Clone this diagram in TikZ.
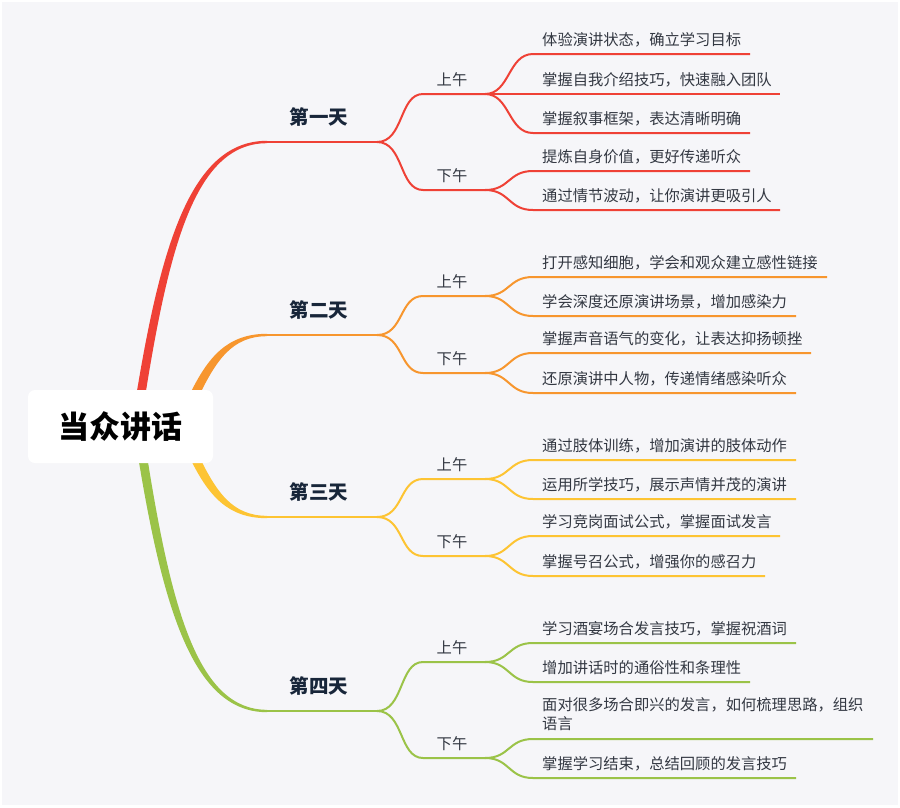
\documentclass[tikz,border=0pt]{standalone}
\usepackage{fontspec}
\setmainfont{Noto Sans CJK SC}
\definecolor{cRed}{HTML}{EF4136}
\definecolor{cOrange}{HTML}{F7962E}
\definecolor{cYellow}{HTML}{FDC433}
\definecolor{cGreen}{HTML}{9BC348}
\definecolor{bgc}{HTML}{F6F6F9}
\definecolor{txt}{HTML}{333842}
\definecolor{daytxt}{HTML}{18263A}
\tikzset{
  rootbox/.style={fill=white,rounded corners=7pt,minimum width=185pt,minimum height=73pt,inner sep=0pt,font=\fontsize{31}{34}\selectfont\bfseries,text=black},
  daylbl/.style={inner sep=0pt,font=\fontsize{19.5}{22}\selectfont\bfseries,text=daytxt},
  halflbl/.style={inner sep=0pt,font=\fontsize{15.3}{19.5}\selectfont,text=txt},
  leaftxt/.style={inner sep=0pt,anchor=west,align=left,font=\fontsize{15.3}{19.5}\selectfont,text=txt},
  dayline/.style={line width=2.4pt},
  subline/.style={line width=2pt},
}
\newcommand{\mmleaf}[7]{%
  \node[leaftxt] (#6) at (542,#5) {#7};
  \coordinate (#6s) at (533,#3);
  \coordinate (#6e) at (#4,#3);
  \draw[subline,#1] (#2) .. controls +(25,0) and +(-25,0) .. (#6s) -- (#6e);
}
\newcommand{\mmday}[6]{%
  \node[daylbl] (#2) at (319,#3-25) {#4};
  \coordinate (#2a) at (267,#3);
  \coordinate (#2b) at (377,#3);
  \draw[dayline,#1] (#2a) -- (#2b);
  \node[halflbl] (#2am) at (452,#5-14) {上午};
  \coordinate (#2amA) at (423,#5);
  \coordinate (#2amB) at (485,#5);
  \draw[subline,#1] (#2b) .. controls +(27,0) and +(-24,0) .. (#2amA) -- (#2amB);
  \node[halflbl] (#2pm) at (452,#6-14) {下午};
  \coordinate (#2pmA) at (423,#6);
  \coordinate (#2pmB) at (485,#6);
  \draw[subline,#1] (#2b) .. controls +(27,0) and +(-24,0) .. (#2pmA) -- (#2pmB);
}
\begin{document}
\begin{tikzpicture}[x=1pt,y=-1pt]
\fill[white] (0,0) rectangle (900,807);
\fill[bgc] (2,2) rectangle (898,805);
\useasboundingbox (0,0) rectangle (900,807);

% main tapered branches
\fill[cRed] (136.5,394) .. controls (162,239) and (193,140.8) .. (267,140.8)
  -- (267,143.2) .. controls (197,143.2) and (170,241) .. (145.5,394) -- cycle;
\fill[cOrange] (189,396) .. controls (208,356) and (228,333.8) .. (267,333.8)
  -- (267,336.2) .. controls (232,336.2) and (216,360) .. (197,400) -- cycle;
\fill[cYellow] (189,456) .. controls (208,496) and (228,518.2) .. (267,518.2)
  -- (267,515.8) .. controls (232,515.8) and (216,492) .. (197,452) -- cycle;
\fill[cGreen] (138.5,459) .. controls (164,614) and (195,712.2) .. (267,712.2)
  -- (267,709.8) .. controls (199,709.8) and (172,612) .. (147.5,459) -- cycle;

\node[rootbox] (root) at (120.5,426.5) {当众讲话};

% Day 1
\mmday{cRed}{d1}{142}{第一天}{94}{190}
\mmleaf{cRed}{d1amB}{54}{750}{39.5}{l11}{体验演讲状态，确立学习目标}
\mmleaf{cRed}{d1amB}{94}{780}{79.5}{l12}{掌握自我介绍技巧，快速融入团队}
\mmleaf{cRed}{d1amB}{133}{750}{118.5}{l13}{掌握叙事框架，表达清晰明确}
\mmleaf{cRed}{d1pmB}{171}{750}{156.5}{l14}{提炼自身价值，更好传递听众}
\mmleaf{cRed}{d1pmB}{210}{780}{195.5}{l15}{通过情节波动，让你演讲更吸引人}

% Day 2
\mmday{cOrange}{d2}{335}{第二天}{296}{373}
\mmleaf{cOrange}{d2amB}{277}{827}{262.5}{l21}{打开感知细胞，学会和观众建立感性链接}
\mmleaf{cOrange}{d2amB}{316}{796}{301.5}{l22}{学会深度还原演讲场景，增加感染力}
\mmleaf{cOrange}{d2pmB}{353}{811}{338.5}{l23}{掌握声音语气的变化，让表达抑扬顿挫}
\mmleaf{cOrange}{d2pmB}{393}{796}{378.5}{l24}{还原演讲中人物，传递情绪感染听众}

% Day 3
\mmday{cYellow}{d3}{517}{第三天}{479}{556}
\mmleaf{cYellow}{d3amB}{460}{796}{445.5}{l31}{通过肢体训练，增加演讲的肢体动作}
\mmleaf{cYellow}{d3amB}{499}{796}{484.5}{l32}{运用所学技巧，展示声情并茂的演讲}
\mmleaf{cYellow}{d3pmB}{536}{780}{521.5}{l33}{学习竞岗面试公式，掌握面试发言}
\mmleaf{cYellow}{d3pmB}{576}{765}{561.5}{l34}{掌握号召公式，增强你的感召力}

% Day 4
\mmday{cGreen}{d4}{711}{第四天}{662}{758}
\mmleaf{cGreen}{d4amB}{643}{796}{628.5}{l41}{学习酒宴场合发言技巧，掌握祝酒词}
\mmleaf{cGreen}{d4amB}{682}{750}{667.5}{l42}{增加讲话时的通俗性和条理性}
\mmleaf{cGreen}{d4pmB}{739}{873}{714}{l43}{面对很多场合即兴的发言，如何梳理思路，组织\\语言}
\mmleaf{cGreen}{d4pmB}{778}{796}{763.5}{l44}{掌握学习结束，总结回顾的发言技巧}
\end{tikzpicture}
\end{document}
